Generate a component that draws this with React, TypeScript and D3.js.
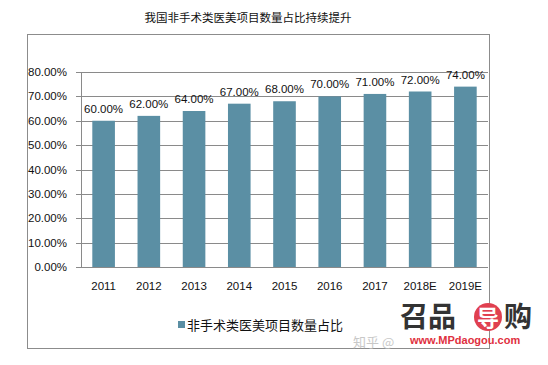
import React from 'react';
import * as d3 from 'd3';

const years = ['2011', '2012', '2013', '2014', '2015', '2016', '2017', '2018E', '2019E'];
const shares = [60, 62, 64, 67, 68, 70, 71, 72, 74];
const yTicks = [0, 10, 20, 30, 40, 50, 60, 70, 80];
const title = '我国非手术类医美项目数量占比持续提升';
const seriesName = '非手术类医美项目数量占比';

const W = 548;
const H = 365;
const plot = { left: 81, right: 488, top: 72, bottom: 267 };
const barColor = '#5b8fa4';
const numFont = '"Liberation Sans", "DejaVu Sans", sans-serif';
const cjkFont = '"Noto Sans CJK SC", sans-serif';

const App: React.FC = () => {
  const x = d3.scaleBand<string>().domain(years).range([plot.left, plot.right]).paddingInner(0.5).paddingOuter(0.25);
  const y = d3.scaleLinear().domain([0, 80]).range([plot.bottom, plot.top]);
  const fmt = (v: number) => v.toFixed(2) + '%';

  return (
    <svg width={W} height={H} style={{ position: 'absolute', left: 0, top: 0, background: '#fff' }}>
      <rect x={0} y={0} width={W} height={H} fill="#fff" />
      <text x={248} y={22} textAnchor="middle" fontFamily={cjkFont} fontSize={11.5} fill="#111">{title}</text>
      <rect x={27.5} y={34.5} width={462} height={314} fill="none" stroke="#8c8c8c" strokeWidth={1} />

      {yTicks.map(t => (
        <g key={t}>
          <line x1={plot.left} x2={plot.right} y1={Math.round(y(t)) + 0.5} y2={Math.round(y(t)) + 0.5} stroke="#8a8a8a" strokeWidth={1} />
          <line x1={plot.left - 5} x2={plot.left} y1={Math.round(y(t)) + 0.5} y2={Math.round(y(t)) + 0.5} stroke="#8a8a8a" strokeWidth={1} />
          <text x={plot.left - 14} y={y(t) + 4} textAnchor="end" fontFamily={numFont} fontSize={11.5} fill="#111">{fmt(t)}</text>
        </g>
      ))}
      <line x1={plot.left + 0.5} x2={plot.left + 0.5} y1={plot.top} y2={plot.bottom} stroke="#8a8a8a" strokeWidth={1} />

      {years.map((yr, i) => (
        <g key={yr}>
          <rect x={x(yr)} y={y(shares[i])} width={x.bandwidth()} height={plot.bottom - y(shares[i])} fill={barColor} />
          <text x={(x(yr) as number) + x.bandwidth() / 2} y={y(shares[i]) - 8} textAnchor="middle" fontFamily={numFont} fontSize={11.5} fill="#111">{fmt(shares[i])}</text>
          <text x={(x(yr) as number) + x.bandwidth() / 2} y={290} textAnchor="middle" fontFamily={numFont} fontSize={11.5} fill="#111">{yr}</text>
        </g>
      ))}

      <rect x={178} y={321} width={7} height={7} fill={barColor} />
      <text x={187} y={330} fontFamily={cjkFont} fontSize={13} fill="#111">{seriesName}</text>

      <text x={400} y={327} fontFamily={cjkFont} fontSize={28} fontWeight="bold" fill="#333">召品</text>
      <circle cx={488} cy={317} r={14} fill="#e04050" />
      <text x={488} y={326} textAnchor="middle" fontFamily={cjkFont} fontSize={22} fontWeight="bold" fill="#fff">导</text>
      <text x={504} y={327} fontFamily={cjkFont} fontSize={28} fontWeight="bold" fill="#333">购</text>
      <text x={410} y={344} fontFamily={numFont} fontSize={11} fontWeight="bold" fill="#e03040">www.MPdaogou.com</text>
      <text x={353} y={347} fontFamily={cjkFont} fontSize={13} fill="#bbb" opacity={0.8}>知乎 @</text>
    </svg>
  );
};

export default App;
